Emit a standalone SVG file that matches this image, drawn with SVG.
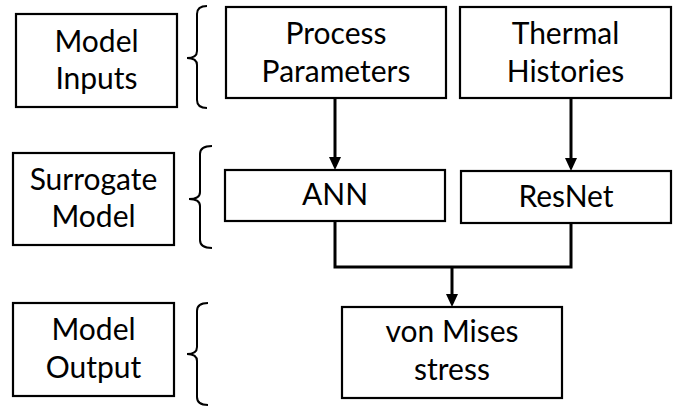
<svg xmlns="http://www.w3.org/2000/svg" width="673" height="407" viewBox="0 0 673 407">
  <style>
    .box { fill: #fff; stroke: #000; stroke-width: 2.2; }
    .lbl { font-family: Lato, "Open Sans", "Liberation Sans", sans-serif; font-size: 30px; fill: #000; text-anchor: middle; }
    .brace { fill: none; stroke: #000; stroke-width: 2; }
    .conn { fill: none; stroke: #000; stroke-width: 3; }
  </style>
  <defs>
    <marker id="arrow" markerUnits="userSpaceOnUse" markerWidth="13" markerHeight="12" viewBox="0 0 13 12" refX="9" refY="6" orient="auto">
      <path d="M0,0 L13,6 L0,12 z" fill="#000"/>
    </marker>
  </defs>

  <g id="label-inputs">
    <rect class="box" x="16" y="14" width="161" height="93"/>
    <text class="lbl" x="96.5" y="52">Model</text>
    <text class="lbl" x="96.5" y="89">Inputs</text>
  </g>
  <g id="label-surrogate">
    <rect class="box" x="13" y="153" width="161" height="92"/>
    <text class="lbl" x="93.5" y="190">Surrogate</text>
    <text class="lbl" x="93.5" y="227">Model</text>
  </g>
  <g id="label-output">
    <rect class="box" x="13" y="303" width="161" height="93"/>
    <text class="lbl" x="93.5" y="340">Model</text>
    <text class="lbl" x="93.5" y="378">Output</text>
  </g>

  <g id="braces">
    <path class="brace" d="M207,6 Q197,6 197,14 L197,51 Q197,58 187,58 Q197,58 197,65 L197,100 Q197,108 207,108"/>
    <path class="brace" d="M212,146 Q200,146 200,154 L200,192 Q200,199 189,199 Q200,199 200,206 L200,240 Q200,248 212,248"/>
    <path class="brace" d="M208,303 Q197,303 197,311 L197,347 Q197,354 187,354 Q197,354 197,361 L197,397 Q197,405 208,405"/>
  </g>

  <g id="process-parameters">
    <rect class="box" x="226" y="7" width="220" height="91"/>
    <text class="lbl" x="336" y="44">Process</text>
    <text class="lbl" x="336" y="82">Parameters</text>
  </g>
  <g id="thermal-histories">
    <rect class="box" x="460" y="7" width="211" height="91"/>
    <text class="lbl" x="565.5" y="44">Thermal</text>
    <text class="lbl" x="565.5" y="82">Histories</text>
  </g>
  <g id="ann">
    <rect class="box" x="225" y="170" width="220" height="51"/>
    <text class="lbl" x="335" y="205">ANN</text>
  </g>
  <g id="resnet">
    <rect class="box" x="461" y="171" width="210" height="52"/>
    <text class="lbl" x="566" y="207">ResNet</text>
  </g>
  <g id="von-mises">
    <rect class="box" x="342" y="307" width="220" height="91"/>
    <text class="lbl" x="452" y="342">von Mises</text>
    <text class="lbl" x="452" y="380">stress</text>
  </g>

  <g id="connectors">
    <line class="conn" x1="335" y1="98" x2="335" y2="166" marker-end="url(#arrow)"/>
    <line class="conn" x1="571" y1="98" x2="571" y2="167" marker-end="url(#arrow)"/>
    <polyline class="conn" points="335,221 335,267 571,267 571,223"/>
    <line class="conn" x1="452" y1="267" x2="452" y2="303" marker-end="url(#arrow)"/>
  </g>
</svg>
